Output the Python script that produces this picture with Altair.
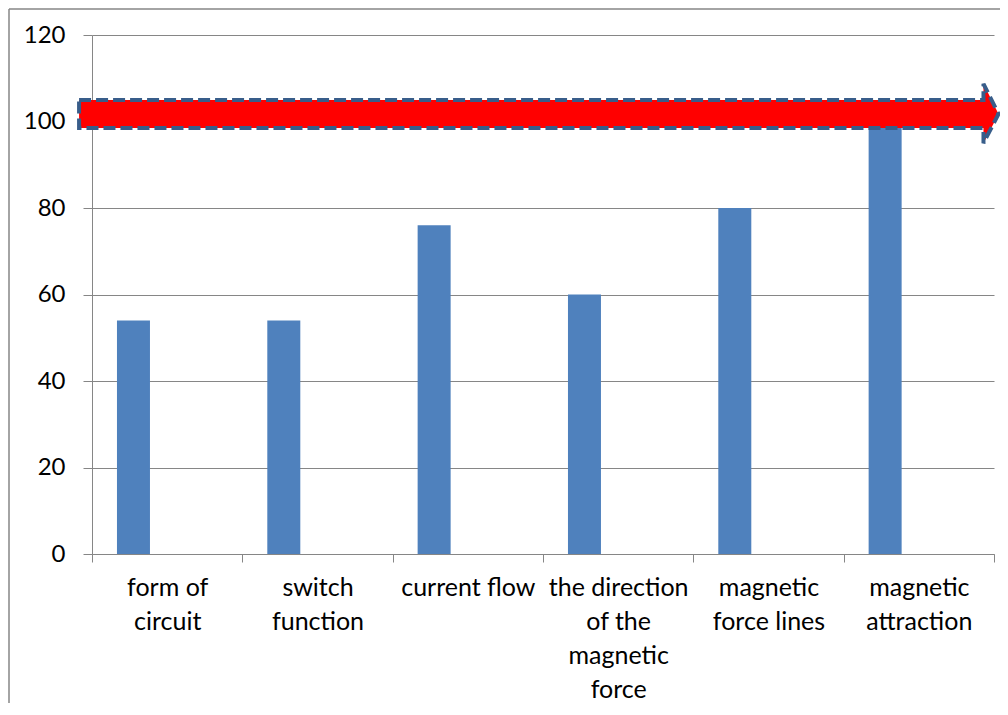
import altair as alt
import pandas as pd

categories = ["form of circuit", "switch function", "current flow",
              "the direction of the magnetic force", "magnetic force lines",
              "magnetic attraction"]
values = [54, 54, 76, 60, 80, 100]
label_lines = [["form of", "circuit"], ["switch", "function"], ["current flow"],
               ["the direction", "of the", "magnetic", "force"],
               ["magnetic", "force lines"], ["magnetic", "attraction"]]
y_ticks = [0, 20, 40, 60, 80, 100, 120]

# arrow annotation outline (x in category units across plot, y in value units)
arrow_x = [-0.086, 5.93, 5.93, 6.03, 5.93, 5.93, -0.086, -0.086]
arrow_y = [105.0, 105.0, 108.7, 101.75, 95.0, 98.5, 98.5, 105.0]

FONT = "Lato"
GRAY = "#868686"

df = pd.DataFrame({"cat": categories, "val": values})
arrow_df = pd.DataFrame({"ax": arrow_x, "ay": arrow_y, "i": list(range(len(arrow_x)))})

mapping = "{" + ",".join(
    "'" + c + "':[" + ",".join("'" + l + "'" for l in ls) + "]"
    for c, ls in zip(categories, label_lines)) + "}"

yscale = alt.Scale(domain=[0, 120], nice=False, zero=True)

bars = alt.Chart(df).mark_bar(width=33, xOffset=-33.7, color="#4F81BD").encode(
    x=alt.X("cat:N", sort=categories, title=None,
            scale=alt.Scale(paddingInner=0, paddingOuter=0),
            axis=alt.Axis(labelAngle=0, tickBand="extent", labelExpr=mapping + "[datum.value]",
                          labelFont=FONT, labelFontSize=25, labelColor="black",
                          labelLineHeight=34, labelPadding=13, tickSize=8,
                          tickColor=GRAY, domainColor=GRAY, labelBaseline="top",
                          grid=False, labelLimit=300)),
    y=alt.Y("val:Q", scale=yscale, title=None,
            axis=alt.Axis(values=y_ticks, labelFont=FONT, labelFontSize=24,
                          labelColor="black", tickSize=9, labelPadding=18,
                          tickColor=GRAY, domainColor=GRAY, gridColor=GRAY,
                          gridOpacity=1, grid=True)),
)

arrow = alt.Chart(arrow_df).mark_line(
    fill="#FF0000", stroke="#385D8A", strokeWidth=4, strokeDash=[12, 5],
    strokeJoin="miter", clip=False
).encode(
    x=alt.X("ax:Q", scale=alt.Scale(domain=[0, 6], nice=False, zero=False), axis=None),
    y=alt.Y("ay:Q", scale=yscale, title=None),
    order="i:Q",
)

one = pd.DataFrame({"k": [0]})
frame_left = alt.Chart(one).mark_rule(color=GRAY, strokeWidth=1.5).encode(
    x=alt.value(-83), y=alt.value(-26), y2=alt.value(700))
frame_top = alt.Chart(one).mark_rule(color=GRAY, strokeWidth=1.5).encode(
    x=alt.value(-83), x2=alt.value(940), y=alt.value(-26))

chart = alt.layer(frame_left, frame_top, bars, arrow).resolve_scale(x="independent").properties(
    width=902, height=519,
    autosize=alt.AutoSizeParams(type="none"),
    padding={"left": 84, "top": 27, "right": 6, "bottom": 149},
).configure_view(stroke=None)

chart.save("out.html", embed_options={"renderer": "svg", "actions": False})
